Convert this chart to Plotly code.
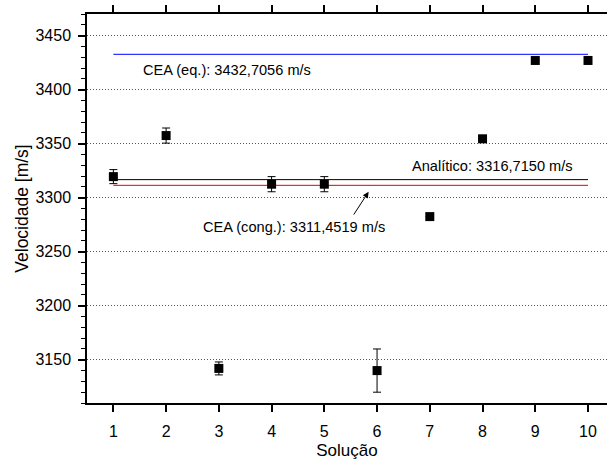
import plotly.graph_objects as go

solucao = [1, 2, 3, 4, 5, 6, 7, 8, 9, 10]
velocidade = [3319.5, 3357.5, 3142.0, 3312.5, 3312.5, 3140.0, 3282.5, 3354.5, 3427.0, 3427.0]
erro = [6.5, 7.0, 6.0, 7.0, 7.0, 20.0, 0.0, 0.0, 0.0, 0.0]

cea_eq = 3432.7056
analitico = 3316.7150
cea_cong = 3311.4519
linha_x = [1, 10]

x_range = [0.5, 10.36]
y_range = [3110, 3470]

font = "Liberation Sans, Arial, sans-serif"

fig = go.Figure()
fig.add_trace(go.Scatter(x=linha_x, y=[cea_eq, cea_eq], mode="lines",
                         line=dict(color="#0000ff", width=1), hoverinfo="skip"))
fig.add_trace(go.Scatter(x=linha_x, y=[analitico, analitico], mode="lines",
                         line=dict(color="#000000", width=1), hoverinfo="skip"))
fig.add_trace(go.Scatter(x=linha_x, y=[cea_cong, cea_cong], mode="lines",
                         line=dict(color="#e00000", width=1), hoverinfo="skip"))
fig.add_trace(go.Scatter(x=solucao, y=velocidade, mode="markers",
                         marker=dict(symbol="square", size=9, color="black"),
                         error_y=dict(type="data", array=erro, visible=True,
                                      color="black", thickness=1, width=4)))

ann_font = dict(size=14.6, color="black", family=font)
fig.add_annotation(x=3.16, y=3418, text="CEA (eq.): 3432,7056 m/s", showarrow=False, font=ann_font)
fig.add_annotation(x=8.18, y=3329.5, text="Analítico: 3316,7150 m/s", showarrow=False, font=ann_font)
fig.add_annotation(x=4.43, y=3273, text="CEA (cong.): 3311,4519 m/s", showarrow=False, font=ann_font)
fig.add_annotation(x=5.84, y=3305.5, ax=5.54, ay=3283, xref="x", yref="y",
                   axref="x", ayref="y", text="", showarrow=True,
                   arrowhead=2, arrowsize=1.2, arrowwidth=1, arrowcolor="black")

fig.update_layout(
    width=607, height=460,
    margin=dict(l=87, r=0, t=14, b=57),
    paper_bgcolor="white", plot_bgcolor="white",
    showlegend=False,
    font=dict(family=font, size=16, color="black"),
    xaxis=dict(range=x_range, tickmode="array", tickvals=solucao,
               ticks="outside", ticklen=7, tickwidth=1.5, tickcolor="black",
               showline=True, linecolor="black", linewidth=1.5, mirror="ticks",
               showgrid=False, zeroline=False, automargin=False,
               tickfont=dict(size=16), ticklabelstandoff=6,
               title=dict(text="Solução", font=dict(size=17), standoff=11)),
    yaxis=dict(range=y_range, tickmode="linear", tick0=3150, dtick=50,
               ticks="outside", ticklen=7, tickwidth=1.5, tickcolor="black",
               showline=True, linecolor="black", linewidth=1.5, mirror=False,
               showgrid=True, gridcolor="#555555", gridwidth=1, griddash="1px,2px",
               zeroline=False, automargin=False, tickfont=dict(size=16),
               ticklabelstandoff=4,
               minor=dict(dtick=10, ticks="outside", ticklen=4, tickcolor="black",
                          tickwidth=1, showgrid=False),
               title=dict(text="Velocidade [m/s]", font=dict(size=17.5), standoff=2)),
)

fig.write_html("out.html", config={"displayModeBar": False},
               post_script="document.body.style.margin='0';document.body.style.overflow='hidden';")
